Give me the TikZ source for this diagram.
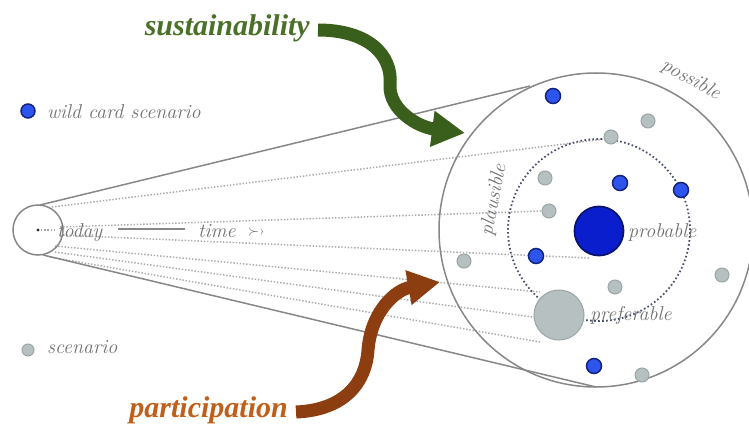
\documentclass[tikz,border=0pt]{standalone}
\usepackage{fontspec}
\newfontfamily\labelfont{Liberation Serif}
\usetikzlibrary{arrows.meta}
\definecolor{txtgrey}{RGB}{112,112,112}
\definecolor{linegrey}{RGB}{135,135,135}
\definecolor{fangrey}{RGB}{170,170,170}
\definecolor{dotline}{RGB}{70,78,108}
\definecolor{wildfill}{RGB}{45,85,235}
\definecolor{wilddraw}{RGB}{20,35,130}
\definecolor{bigblue}{RGB}{10,30,205}
\definecolor{bigbluedraw}{RGB}{10,20,110}
\definecolor{scenfill}{RGB}{182,192,192}
\definecolor{scendraw}{RGB}{155,165,165}
\definecolor{susgreen}{RGB}{75,112,40}
\definecolor{arrgreen}{RGB}{58,95,28}
\definecolor{partorange}{RGB}{192,95,25}
\definecolor{arrbrown}{RGB}{140,62,16}
\begin{document}
\begin{tikzpicture}[x=1pt,y=-1pt,
  wild/.style={circle,fill=wildfill,draw=wilddraw,line width=1.5pt,inner sep=0pt,minimum size=15pt},
  scen/.style={circle,fill=scenfill,draw=scendraw,line width=1pt,inner sep=0pt,minimum size=14pt},
  lbl/.style={text=txtgrey,font=\fontsize{20}{24}\selectfont\itshape,inner sep=0pt},
  fan/.style={fangrey,line width=1.5pt,dash pattern=on 1.4pt off 1.8pt},
  outline/.style={linegrey,line width=1.5pt},
  bigarrow/.style={line width=13pt},
  biglabel/.style={font=\labelfont\fontsize{30}{34}\selectfont\bfseries\itshape,inner sep=0pt}]
\useasboundingbox (0,0) rectangle (749,425);

% fan of dotted time lines
\draw[fan] (52,207) -- (605,139);
\draw[fan] (60,227) -- (543,211);
\draw[fan] (60,235) -- (590,258);
\draw[fan] (55,246) -- (540,292);
\draw[fan] (55,252) -- (540,318);
\draw[fan] (50,257) -- (540,342);

% cone
\node[circle,draw=linegrey,line width=1.5pt,minimum size=50pt,inner sep=0pt] (today) at (38,230) {};
\node[circle,draw=linegrey,line width=1.5pt,minimum size=314pt,inner sep=0pt] (possible) at (596,230) {};
\coordinate (ut) at (40,205);
\coordinate (ue) at (530,86);
\coordinate (lt) at (43,255);
\coordinate (le) at (596,387);
\draw[outline] (ut) -- (ue);
\draw[outline] (lt) -- (le);

% probable circle
\node[circle,draw=dotline,line width=1.8pt,dash pattern=on 1.6pt off 2.4pt,minimum size=182pt,inner sep=0pt] (probring) at (599,230) {};

% today / time
\fill[black!80] (38,230) circle (1.6pt);
\draw[fan] (41,230) -- (57,230);
\node[lbl,anchor=base west] (todaytxt) at (57,237) {today};
\draw[linegrey,line width=1.2pt] (118,229) -- (185,229);
\node[lbl,anchor=base west] (timetxt) at (198,237) {time};
\node[lbl,anchor=base west,font=\fontsize{14}{16}\selectfont] (timearr) at (248,235) {$\succ$›};

% scenarios
\node[wild] (w1) at (553,96) {};
\node[wild] (w2) at (620,183) {};
\node[wild] (w3) at (681,190) {};
\node[wild] (w4) at (536,256) {};
\node[wild] (w5) at (594,366) {};
\node[scen] (s1) at (648,121) {};
\node[scen] (s2) at (611,137) {};
\node[scen] (s3) at (545,178) {};
\node[scen] (s4) at (549,211) {};
\node[scen] (s5) at (464,261) {};
\node[scen] (s6) at (615,287) {};
\node[scen] (s7) at (722,275) {};
\node[scen] (s8) at (642,375) {};
\node[circle,fill=bigblue,draw=bigbluedraw,line width=1.8pt,minimum size=49pt,inner sep=0pt] (prob) at (599,231) {};
\node[circle,fill=scenfill,draw=scendraw,line width=1pt,minimum size=50pt,inner sep=0pt] (pref) at (559,315) {};

% labels
\node[lbl,anchor=base west] (problbl) at (628,237) {probable};
\node[lbl,anchor=base west] (preflbl) at (590,320) {preferable};
\node[lbl,rotate=-29] (posslbl) at (691,80) {possible};
\node[lbl,rotate=79] (plaulbl) at (494,200) {plausible};

% legend
\node[wild,minimum size=14pt] (legw) at (28,111) {};
\node[lbl,anchor=base west] (legwt) at (47,118) {wild card scenario};
\node[scen,minimum size=12pt] (legs) at (28,350) {};
\node[lbl,anchor=base west] (legst) at (47,353) {scenario};

% drivers
\node[biglabel,text=susgreen,anchor=base east] (sus) at (310,36) {sustainability};
\node[biglabel,text=partorange,anchor=base east] (part) at (288,417) {participation};
\coordinate (gtip) at (465,133);
\coordinate (btip) at (440,282);
\draw[arrgreen,bigarrow,-{Triangle[length=33pt,width=34pt]}]
  (sus.east |- 0,30) ++(8,0) .. controls (368,30) and (393,55) .. (390,85)
  .. controls (389,110) and (418,127) .. (gtip);
\draw[arrbrown,bigarrow,-{Triangle[length=32pt,width=33pt]}]
  (part.east |- 0,412) ++(8,0) .. controls (345,410) and (366,382) .. (368,350)
  .. controls (371,312) and (395,290) .. (btip);
\end{tikzpicture}
\end{document}
